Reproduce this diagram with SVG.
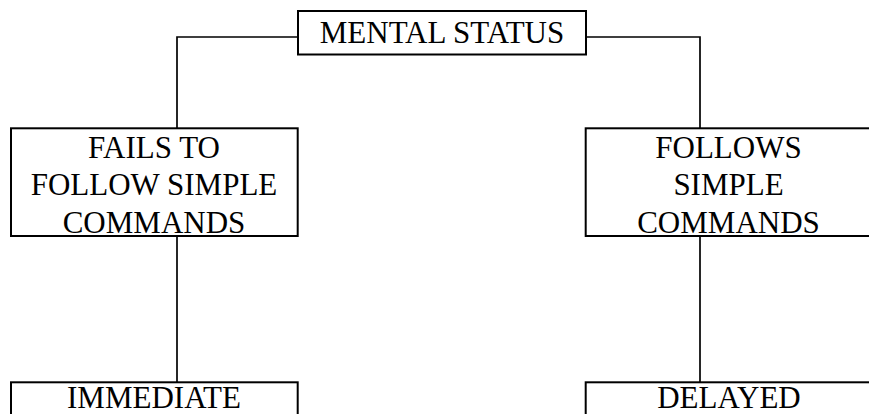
<svg xmlns="http://www.w3.org/2000/svg" width="869" height="414" viewBox="0 0 869 414">
<style>
.box{fill:#fff;stroke:#000;stroke-width:2}
.ln{fill:none;stroke:#000;stroke-width:1.7}
text{font-family:"Liberation Serif","Times New Roman",serif;font-size:31px;fill:#000;text-anchor:middle}
</style>
<rect width="869" height="414" fill="#fff"/>
<g id="connectors">
<polyline class="ln" points="298,37 177,37 177,128"/>
<polyline class="ln" points="586,37 700,37 700,128"/>
<line class="ln" x1="177" y1="236" x2="177" y2="382"/>
<line class="ln" x1="700" y1="236" x2="700" y2="382"/>
</g>
<g id="mental-status">
<rect class="box" x="298" y="11" width="288" height="43.5"/>
<text x="442" y="43">MENTAL STATUS</text>
</g>
<g id="fails">
<rect class="box" x="11" y="128.3" width="286.7" height="107.7"/>
<text x="154" y="157.5">FAILS TO</text>
<text x="154" y="195">FOLLOW SIMPLE</text>
<text x="154" y="232.5">COMMANDS</text>
</g>
<g id="follows">
<rect class="box" x="585.7" y="128.3" width="290" height="107.7"/>
<text x="728.5" y="157.5">FOLLOWS</text>
<text x="728.5" y="195">SIMPLE</text>
<text x="728.5" y="232.5">COMMANDS</text>
</g>
<g id="immediate">
<rect class="box" x="11" y="382.3" width="286.7" height="60"/>
<text x="154" y="408">IMMEDIATE</text>
</g>
<g id="delayed">
<rect class="box" x="585.7" y="382.3" width="290" height="60"/>
<text x="729" y="408">DELAYED</text>
</g>
</svg>
